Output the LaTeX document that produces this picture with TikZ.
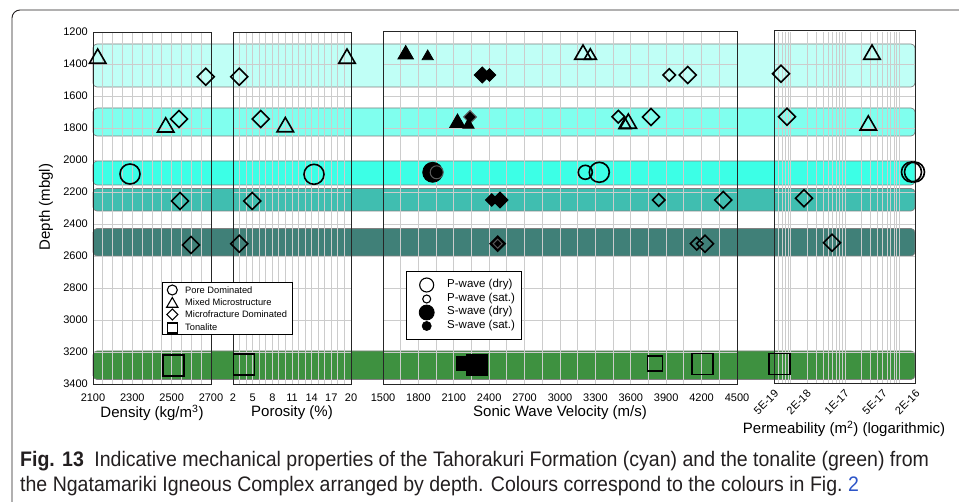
\documentclass[tikz,border=0pt]{standalone}
\usepackage{fontspec}
\setmainfont{Liberation Sans}
\newfontfamily\capfont[FakeStretch=0.93]{Liberation Sans}
\usepackage{xcolor}
\usetikzlibrary{calc}

\definecolor{bandA}{RGB}{192,255,246}
\definecolor{bandB}{RGB}{128,255,238}
\definecolor{bandC}{RGB}{60,255,230}
\definecolor{bandD}{RGB}{64,190,176}
\definecolor{bandE}{RGB}{64,128,120}
\definecolor{bandF}{RGB}{62,145,64}
\definecolor{gridgray}{RGB}{204,204,204}
\definecolor{captext}{RGB}{35,31,32}
\definecolor{linkblue}{RGB}{45,85,200}

% markers: style, x, y, half size
\newcommand{\mcirc}[4]{\draw[#1] (#2,#3) circle[radius=#4];}
\newcommand{\mtri}[4]{\draw[#1] (#2,#3) ++(0,-#4) -- ++(0.866*#4,1.5*#4) -- ++(-1.732*#4,0) -- cycle;}
\newcommand{\mdia}[4]{\draw[#1] (#2,#3) ++(0,-#4) -- ++(#4,#4) -- ++(-#4,#4) -- ++(-#4,-#4) -- cycle;}
\newcommand{\msq}[4]{\draw[#1] (#2-#4,#3-#4) rectangle (#2+#4,#3+#4);}

\begin{document}
\begin{tikzpicture}[
    x=1pt, y=-1pt,
    declare function={
        dep(\d)=32+(\d-1200)*0.16;
        rho(\v)=93+(\v-2100)/600*118;
        por(\v)=233+(\v-2)/18*118;
        vel(\v)=383+(\v-1500)/3000*354;
        perm(\e)=774.3+(\e+18.301)*54.3;
    },
    band/.style={
        draw=black!50,
        line width=0.7pt,
        rounded corners=4pt
    },
    grid/.style={
        draw=gridgray,
        line width=0.9pt
    },
    panel/.style={
        draw=black!85,
        line width=0.9pt
    },
    hollowmk/.style={
        draw=black,
        line width=1.6pt
    },
    filledmk/.style={
        draw=black,
        fill=black,
        line width=0.8pt
    },
    satmk/.style={
        draw=black!65,
        fill=black,
        line width=1pt
    },
    legmk/.style={
        draw=black,
        line width=1.1pt
    },
    legbox/.style={
        draw=black,
        fill=white,
        line width=1pt
    },
    tick/.style={
        font=\fontsize{11}{13}\selectfont,
        inner sep=1pt
    },
    title/.style={
        font=\fontsize{15}{17}\selectfont,
        inner sep=1pt
    },
    legtext/.style={
        anchor=west,
        inner sep=0pt
    },
    caption/.style={
        anchor=west,
        inner sep=0pt,
        text=captext,
        font=\capfont\fontsize{21}{25}\selectfont
    }
]
\useasboundingbox (0,0) rectangle (959,502);

% Outer frame
\draw[captext, line width=0.9pt, rounded corners=8pt] (960,10) -- (12,10) -- (12,503);

% Bands
\draw[band, fill=bandA] (93,44) rectangle (915,87);
\draw[band, fill=bandB] (93,108) rectangle (915,136);
\draw[band, fill=bandC] (93,161) rectangle (915,185);
\draw[band, fill=bandD] (93,188.5) rectangle (915,211);
\draw[band, fill=bandE] (93,228.5) rectangle (915,256);
\draw[band, fill=bandF] (93,351) rectangle (915,379.5);

% Grid
\foreach \xa/\xb in {93/211,233/351,383/737,774.3/915.6}
    \foreach \d in {1400,1600,...,3200}
        \draw[grid] (\xa,{dep(\d)}) -- (\xb,{dep(\d)});
\foreach \v in {2150,2200,...,2650}
    \draw[grid] ({rho(\v)},32) -- ({rho(\v)},384);
\foreach \v in {3,...,19}
    \draw[grid] ({por(\v)},32) -- ({por(\v)},384);
\foreach \v in {1650,1800,...,4350}
    \draw[grid] ({vel(\v)},32) -- ({vel(\v)},384);
\foreach \e in {-19,-18,-17,-16}{
    \foreach \m in {1,...,9}{
        \pgfmathsetmacro\lx{log10(\m)+\e}
        \pgfmathparse{and(\lx>-18.29,\lx<-15.71)}
        \ifdim\pgfmathresult pt>0.5pt
            \draw[grid] ({perm(\lx)},32) -- ({perm(\lx)},384);
        \fi
    }
}

% Panels
\draw[panel] (93,32) rectangle (211,384);
\draw[panel] (233,32) rectangle (351,384);
\draw[panel] (383,31) rectangle (737,384);
\draw[panel] (774.3,30) rectangle (915.6,383);

% Density markers
\mtri{hollowmk}{97.7}{58.5}{9.5}
\mdia{hollowmk}{205.7}{76.7}{8.5}
\mdia{hollowmk}{179}{119}{8.5}
\mtri{hollowmk}{165.7}{127.3}{9.5}
\mcirc{hollowmk}{130}{174}{10}
\mdia{hollowmk}{180}{201}{8.5}
\mdia{hollowmk}{191}{245}{8.5}
\msq{hollowmk}{173.7}{365.7}{10.5}

% Porosity markers
\mtri{hollowmk}{347}{58.5}{9.5}
\mdia{hollowmk}{239.3}{76.7}{8.5}
\mdia{hollowmk}{260.7}{119}{8.5}
\mtri{hollowmk}{285.3}{127}{9.5}
\mcirc{hollowmk}{314}{174.3}{10}
\mdia{hollowmk}{252.3}{201}{8.5}
\mdia{hollowmk}{239.3}{243.7}{8.5}
\msq{hollowmk}{244}{364.7}{10.5}

% Sonic markers (S-wave filled, P-wave hollow)
\mtri{filledmk}{405.7}{54.5}{9}
\mtri{filledmk}{427.7}{56.5}{6.5}
\mtri{hollowmk}{583}{54.5}{9.5}
\mtri{hollowmk}{590.3}{55.8}{7}
\mdia{filledmk}{482.3}{75}{8}
\mdia{filledmk}{489.5}{75}{6.3}
\mdia{hollowmk}{669.3}{75}{6.3}
\mdia{hollowmk}{687.7}{75}{8.5}
\mtri{filledmk}{457.5}{123}{9}
\mdia{satmk}{470}{117}{6.3}
\mtri{filledmk}{468.5}{125}{6.5}
\mdia{hollowmk}{618.3}{116.7}{6.3}
\mtri{hollowmk}{625}{125}{7}
\mtri{hollowmk}{628.3}{123.5}{9.5}
\mdia{hollowmk}{651}{117}{8.5}
\mcirc{filledmk}{432.7}{172.3}{10}
\mcirc{satmk}{436.7}{172.3}{6.5}
\mcirc{hollowmk}{585.3}{172.3}{7}
\mcirc{hollowmk}{599.3}{172.3}{10}
\mdia{filledmk}{491.7}{200}{6.3}
\mdia{filledmk}{500}{200}{8}
\mdia{hollowmk}{658.7}{200}{6.3}
\mdia{hollowmk}{723.3}{200}{8.5}
\mdia{filledmk}{497.7}{243.7}{8}
\mdia{satmk}{497.7}{243.7}{4.5}
\mdia{hollowmk}{696.7}{243.7}{6.3}
\mdia{hollowmk}{705}{243.7}{8.5}
\msq{filledmk}{464}{363.3}{7.2}
\msq{filledmk}{476.7}{364.5}{10.5}
\msq{hollowmk}{655}{363.3}{7.5}
\msq{hollowmk}{702.3}{364}{10.5}

% Permeability markers
\mtri{hollowmk}{872}{54.5}{9.5}
\mdia{hollowmk}{781}{73.7}{8.5}
\mdia{hollowmk}{787}{116.7}{8.5}
\mtri{hollowmk}{868.3}{125.3}{9.5}
\mcirc{hollowmk}{911.5}{172}{10}
\mcirc{hollowmk}{914.5}{172}{10}
\mdia{hollowmk}{804}{198.3}{8.5}
\mdia{hollowmk}{832}{242.7}{8.5}
\msq{hollowmk}{779.3}{364}{10.5}

% Legend: microstructure
\draw[legbox] (162.3,282.3) rectangle (292.3,335);
\mcirc{legmk}{172.3}{290}{5}
\mtri{legmk}{172.3}{304}{6.5}
\mdia{legmk}{172.3}{314.5}{5.5}
\msq{legmk}{172.3}{328}{5}
\begin{scope}[font=\fontsize{9.3}{11}\selectfont]
\node[legtext] (lpore) at (185,290) {Pore Dominated};
\node[legtext] (lmixed) at (185,302.5) {Mixed Microstructure};
\node[legtext] (lfrac) at (185,314.5) {Microfracture Dominated};
\node[legtext] (lton) at (185,327.5) {Tonalite};
\end{scope}

% Legend: wave type
\draw[legbox] (406,271.7) rectangle (521.7,339.3);
\mcirc{legmk}{426.7}{285}{7}
\mcirc{legmk}{426.7}{299}{4}
\mcirc{filledmk}{426.7}{312.5}{7.5}
\mcirc{filledmk}{426.7}{326}{4.5}
\begin{scope}[font=\fontsize{11.5}{13}\selectfont]
\node[legtext] (lpdry) at (447,285) {P-wave (dry)};
\node[legtext] (lpsat) at (447,298.5) {P-wave (sat.)};
\node[legtext] (lsdry) at (447,312) {S-wave (dry)};
\node[legtext] (lssat) at (447,326) {S-wave (sat.)};
\end{scope}

% Axis ticks
\foreach \d in {1200,1400,...,3400}
    \node[tick, anchor=east] (dep\d) at (89,{dep(\d)}) {\d};
\foreach \v in {2100,2300,2500,2700}
    \node[tick] (rho\v) at ({rho(\v)},398) {\v};
\foreach \v in {2,5,...,20}
    \node[tick] (por\v) at ({por(\v)},398) {\v};
\foreach \v in {1500,1800,...,4500}
    \node[tick] (vel\v) at ({vel(\v)},398) {\v};
\foreach \lab/\e [count=\i] in {5E-19/-18.301,2E-18/-17.699,1E-17/-17,5E-17/-16.301,2E-16/-15.699}
    \node[tick, rotate=45, anchor=east] (perm\i) at ({perm(\e)+3},391) {\lab};

% Axis titles
\node[title, rotate=90] (deptitle) at (46,207) {Depth (mbgl)};
\node[title] (rhotitle) at (152,413) {Density (kg/m\textsuperscript{3})};
\node[title] (portitle) at (292,413) {Porosity (\%)};
\node[title] (veltitle) at (560,413) {Sonic Wave Velocity (m/s)};
\node[title] (permtitle) at (844,429) {Permeability (m\textsuperscript{2}) (logarithmic)};

% Caption
\node[caption] (cap1) at (20,461) {\textbf{Fig. 13}\enspace Indicative mechanical properties of the Tahorakuri Formation (cyan) and the tonalite (green) from};
\node[caption] (cap2) at (20,486) {the Ngatamariki Igneous Complex arranged by depth. Colours correspond to the colours in Fig.~{\color{linkblue}2}};

\end{tikzpicture}
\end{document}
